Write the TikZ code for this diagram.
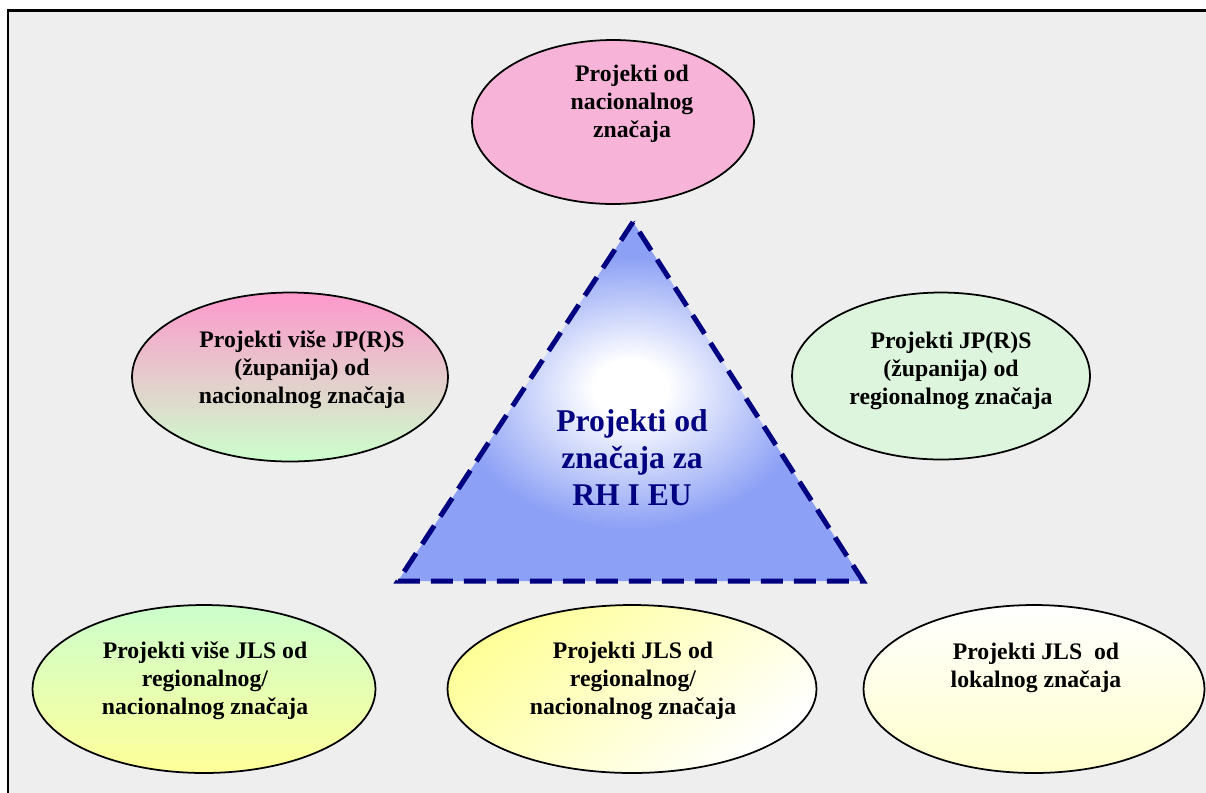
\documentclass[tikz,border=0pt]{standalone}
\usepackage{fontspec}
\setmainfont{Liberation Serif}
\usetikzlibrary{shapes.geometric}

\definecolor{bgray}{RGB}{238,238,238}
\definecolor{navyline}{RGB}{0,0,128}
\definecolor{triblue}{RGB}{140,160,245}
\definecolor{pinkfill}{RGB}{247,180,216}
\definecolor{pinktop}{RGB}{253,152,204}
\definecolor{greenbot}{RGB}{204,255,204}
\definecolor{greenfill}{RGB}{221,244,221}
\definecolor{yellowbot}{RGB}{255,255,153}
\definecolor{creamfill}{RGB}{255,255,204}

\pgfdeclareradialshading{triglow}{\pgfpoint{0bp}{2bp}}{color(0bp)=(white); color(4bp)=(white); color(19bp)=(triblue); color(50bp)=(triblue)}

\begin{document}
\begin{tikzpicture}[x=0.02cm,y=-0.02cm,
	proj/.style={ellipse,draw,line width=1pt},
	lbl/.style={align=center,font=\fontsize{13.5}{16}\selectfont\bfseries}]
	\clip (0,0) rectangle (1206,792);
	\draw[line width=1.4pt,fill=bgray] (8,10.5) rectangle (1240,830);
	% ellipses
	\node[proj,fill=pinkfill,minimum width=5.64cm,minimum height=3.28cm] (nac) at (613,122) {};
	\node[proj,top color=pinktop,bottom color=greenbot,minimum width=6.32cm,minimum height=3.38cm] (zupvise) at (290,377) {};
	\node[proj,fill=greenfill,minimum width=5.96cm,minimum height=3.34cm] (zup) at (941,376) {};
	\node[proj,top color=greenbot,bottom color=yellowbot,minimum width=6.86cm,minimum height=3.36cm] (jlsvise) at (204,689) {};
	\node[proj,top color=yellowbot,bottom color=white,shading angle=40,minimum width=7.38cm,minimum height=3.36cm] (jls) at (632,689) {};
	\node[proj,top color=white,bottom color=creamfill,minimum width=6.82cm,minimum height=3.36cm] (jlslok) at (1034,689) {};
	\node[lbl] (nactxt) at (632,104) {Projekti od\\nacionalnog\\značaja};
	\node[lbl] (zupvisetxt) at (302,370) {Projekti više JP(R)S\\(županija) od\\nacionalnog značaja};
	\node[lbl] (zuptxt) at (951,371) {Projekti JP(R)S\\(županija) od\\regionalnog značaja};
	\node[lbl] (jlsvisetxt) at (205,681) {Projekti više JLS od\\regionalnog/\\nacionalnog značaja};
	\node[lbl] (jlstxt) at (633,681) {Projekti JLS od\\regionalnog/\\nacionalnog značaja};
	\node[lbl] (jlsloktxt) at (1036,668) {Projekti JLS\ \ od\\lokalnog značaja};
	% triangle
	\coordinate (tapex) at (633,222);
	\coordinate (tleft) at (398,581);
	\coordinate (tright) at (863,581);
	\path[shading=triglow] (tapex) -- (tleft) -- (tright) -- cycle;
	\draw[navyline,line width=2.85pt,dash pattern=on 0.44cm off 0.22cm] (tapex) -- (tleft) -- (tright) -- cycle;
	\node[navyline,align=center,font=\fontsize{18}{21}\selectfont\bfseries] (rheu) at (632,458) {Projekti od\\značaja za\\RH I EU};
\end{tikzpicture}
\end{document}
